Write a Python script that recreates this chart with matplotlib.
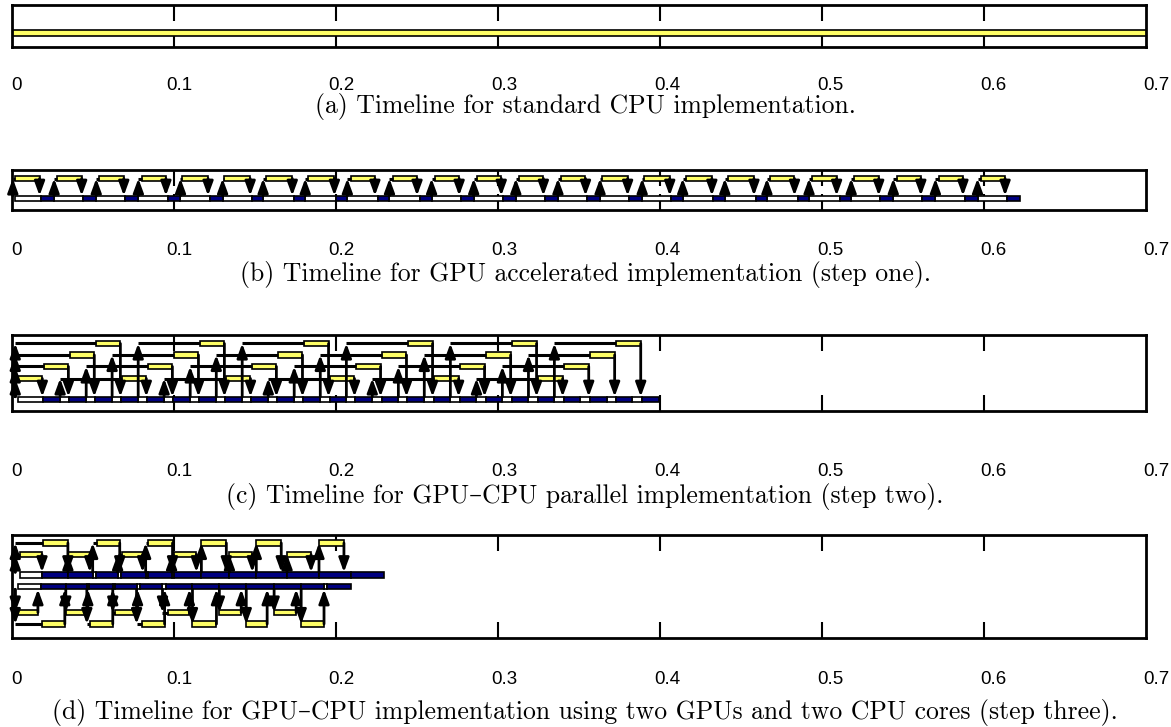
import matplotlib
matplotlib.use('Agg')
from matplotlib import pyplot as plt
from matplotlib.transforms import blended_transform_factory

plt.rcParams['font.family'] = ['Liberation Sans', 'DejaVu Sans']

W, H = 1171, 727

tick_values = [0, 0.1, 0.2, 0.3, 0.4, 0.5, 0.6, 0.7]
tick_labels = ['0', '0.1', '0.2', '0.3', '0.4', '0.5', '0.6', '0.7']
inner_ticks = [0.1, 0.2, 0.3, 0.4, 0.5, 0.6]

captions = [
    '(a) Timeline for standard CPU implementation.',
    '(b) Timeline for GPU accelerated implementation (step one).',
    '(c) Timeline for GPU\u2013CPU parallel implementation (step two).',
    '(d) Timeline for GPU\u2013CPU implementation using two GPUs and two CPU cores (step three).',
]

# (a) everything on the CPU
a_work_start = [0.0]
a_work_end = [0.76]

# (b) one GPU stream, CPU waits for each kernel
b_gpu_start = [0.002, 0.028, 0.054, 0.080, 0.105, 0.131, 0.157, 0.183, 0.209, 0.235, 0.261, 0.287,
               0.313, 0.339, 0.364, 0.390, 0.416, 0.442, 0.468, 0.494, 0.520, 0.546, 0.572, 0.598]
b_gpu_end = [0.017, 0.043, 0.069, 0.095, 0.121, 0.147, 0.173, 0.199, 0.224, 0.250, 0.276, 0.302,
             0.328, 0.354, 0.380, 0.406, 0.432, 0.458, 0.483, 0.509, 0.535, 0.561, 0.587, 0.613]
b_cpu_start = [0.018, 0.044, 0.070, 0.096, 0.122, 0.148, 0.174, 0.200, 0.226, 0.252, 0.277, 0.303,
               0.329, 0.355, 0.381, 0.407, 0.433, 0.459, 0.485, 0.511, 0.536, 0.562, 0.588, 0.614]
b_cpu_end = [0.026, 0.052, 0.078, 0.104, 0.130, 0.155, 0.181, 0.207, 0.233, 0.259, 0.285, 0.311,
             0.337, 0.363, 0.389, 0.414, 0.440, 0.466, 0.492, 0.518, 0.544, 0.570, 0.596, 0.622]
b_first_dispatch = [0.0005]

# (c) four streams on one GPU
c_gpu_start = [0.0037, 0.0198, 0.0358, 0.0519, 0.0679, 0.0840, 0.1001, 0.1161, 0.1322, 0.1482, 0.1643, 0.1804,
               0.1964, 0.2125, 0.2285, 0.2446, 0.2607, 0.2767, 0.2928, 0.3088, 0.3249, 0.3410, 0.3570, 0.3731]
c_gpu_end = [0.0187, 0.0348, 0.0508, 0.0669, 0.0829, 0.0990, 0.1151, 0.1311, 0.1472, 0.1632, 0.1793, 0.1954,
             0.2114, 0.2275, 0.2435, 0.2596, 0.2757, 0.2917, 0.3078, 0.3238, 0.3399, 0.3560, 0.3720, 0.3881]
c_cpu_start = [0.0193, 0.0354, 0.0514, 0.0675, 0.0835, 0.0996, 0.1157, 0.1317, 0.1478, 0.1638, 0.1799, 0.1960,
               0.2120, 0.2281, 0.2441, 0.2602, 0.2763, 0.2923, 0.3084, 0.3244, 0.3405, 0.3566, 0.3726, 0.3887]
c_cpu_end = [0.0297, 0.0458, 0.0618, 0.0779, 0.0939, 0.1100, 0.1261, 0.1421, 0.1582, 0.1742, 0.1903, 0.2064,
             0.2224, 0.2385, 0.2545, 0.2706, 0.2867, 0.3027, 0.3188, 0.3348, 0.3509, 0.3670, 0.3830, 0.3991]
c_first_dispatch = [0.002, 0.002, 0.002, 0.002]

# (d) two GPUs (two streams each), two CPU cores
d1_gpu_start = [0.0049, 0.0191, 0.0345, 0.0523, 0.0677, 0.0837, 0.1003, 0.1169, 0.1342, 0.1508, 0.1698, 0.1895]
d1_gpu_end = [0.0185, 0.0345, 0.0480, 0.0665, 0.0806, 0.0991, 0.1138, 0.1323, 0.1483, 0.1662, 0.1846, 0.2049]
d1_cpu_start = [0.0185, 0.0345, 0.0517, 0.0671, 0.0837, 0.0997, 0.1169, 0.1342, 0.1508, 0.1698, 0.1895, 0.2092]
d1_cpu_end = [0.0345, 0.0498, 0.0652, 0.0825, 0.0985, 0.1169, 0.1342, 0.1508, 0.1698, 0.1895, 0.2092, 0.2295]
d2_gpu_start = [0.0037, 0.0185, 0.0332, 0.0480, 0.0634, 0.0800, 0.0960, 0.1114, 0.1280, 0.1446, 0.1618, 0.1785]
d2_gpu_end = [0.0160, 0.0326, 0.0468, 0.0622, 0.0775, 0.0942, 0.1095, 0.1262, 0.1415, 0.1575, 0.1754, 0.1926]
d2_cpu_start = [0.0178, 0.0332, 0.0474, 0.0634, 0.0788, 0.0948, 0.1114, 0.1280, 0.1446, 0.1618, 0.1785, 0.1945]
d2_cpu_end = [0.0332, 0.0462, 0.0622, 0.0769, 0.0929, 0.1114, 0.1280, 0.1446, 0.1618, 0.1785, 0.1926, 0.2092]
d_first_dispatch = [0.002, 0.002]

YELLOW = '#ffff66'
BLUE = '#000080'
BAR_H = 5.6

# pixel layout: axes top/bottom, tick label row, caption row
panels = [
    dict(top=5, bottom=47, labels=86, caption=106),
    dict(top=170, bottom=210, labels=251, caption=274),
    dict(top=335, bottom=411, labels=472, caption=496),
    dict(top=535, bottom=638, labels=680, caption=712),
]
X0, X1 = 12, 1146
LX0, LX1 = 16, 1156


def bars(ax, starts, ends, y, color):
    widths = [e - s for s, e in zip(starts, ends)]
    ax.barh([y] * len(starts), widths, left=starts, height=BAR_H, color=color,
            edgecolor='black', linewidth=1.2, zorder=2)


def arrow(ax, x, y0, y1):
    ax.annotate('', xy=(x, y1), xytext=(x, y0),
                arrowprops=dict(arrowstyle='-|>,head_length=0.6,head_width=0.22',
                                mutation_scale=14, lw=2, color='black',
                                shrinkA=0, shrinkB=0), zorder=4)


def idle_spans(first, cpu_start, cpu_end):
    s, e = [first], [cpu_start[0]]
    for i in range(len(cpu_start) - 1):
        if cpu_start[i + 1] > cpu_end[i]:
            s.append(cpu_end[i])
            e.append(cpu_start[i + 1])
    return s, e


def timeline(ax, gpu_start, gpu_end, rows, cpu_start, cpu_end, first_dispatch, cpu_y):
    n_streams = len(first_dispatch)
    # CPU row: idle (white) and busy (blue)
    ws, we = idle_spans(min(gpu_start), cpu_start, cpu_end)
    bars(ax, ws, we, cpu_y, 'white')
    bars(ax, cpu_start, cpu_end, cpu_y, BLUE)
    for k, y in enumerate(rows):
        bars(ax, [gpu_start[k]], [gpu_end[k]], y, YELLOW)
        edge = cpu_y - BAR_H / 2 if y < cpu_y else cpu_y + BAR_H / 2
        t = first_dispatch[k] if k < n_streams else cpu_end[k - n_streams]
        arrow(ax, t, edge, y)
        if gpu_start[k] > t:
            ax.plot([t, gpu_start[k]], [y, y], color='black', lw=2.2, zorder=3,
                    solid_capstyle='butt')
        arrow(ax, gpu_end[k], y, edge)


fig = plt.figure(figsize=(W / 100, H / 100), dpi=100)
axes = []
for i, p in enumerate(panels):
    ax = fig.add_axes([X0 / W, 1 - p['bottom'] / H, (X1 - X0) / W, (p['bottom'] - p['top']) / H])
    ax.set_xlim(0, 0.7)
    ax.set_ylim(p['bottom'] - p['top'], 0)
    ax.set_yticks([])
    ax.set_xticks(inner_ticks, [''] * len(inner_ticks))
    ax.tick_params(axis='x', direction='in', top=True, bottom=True, length=11.5, width=1.5)
    ax.set_axisbelow(True)
    for s in ax.spines.values():
        s.set_linewidth(2)
    axes.append(ax)

    lab = fig.add_axes([LX0 / W, 1 - p['labels'] / H, (LX1 - LX0) / W, 0.0001])
    lab.set_xlim(0, 0.7)
    lab.axis('off')
    tr = blended_transform_factory(lab.transData, lab.transAxes)
    for v, t in zip(tick_values, tick_labels):
        lab.text(v, 0.5, t, transform=tr, ha='center', va='center', fontsize=13.5)

    fig.text(585 / W, 1 - p['caption'] / H, captions[i], ha='center', va='center',
             fontsize=18.5, family=['cmr10', 'DejaVu Serif'])

# (a)
bars(axes[0], a_work_start, a_work_end, 28, YELLOW)

# (b)
timeline(axes[1], b_gpu_start, b_gpu_end, [8.5] * len(b_gpu_start),
         b_cpu_start, b_cpu_end, b_first_dispatch, 28.5)

# (c) stream rows from bottom to top
c_levels = [43.5, 31.5, 20, 8.5]
timeline(axes[2], c_gpu_start, c_gpu_end, [c_levels[k % 4] for k in range(len(c_gpu_start))],
         c_cpu_start, c_cpu_end, c_first_dispatch, 64.5)

# (d) GPU 1 above CPU 1, GPU 2 below CPU 2
d1_levels = [19.5, 8]
d2_levels = [77.5, 89]
timeline(axes[3], d1_gpu_start, d1_gpu_end, [d1_levels[k % 2] for k in range(len(d1_gpu_start))],
         d1_cpu_start, d1_cpu_end, d_first_dispatch, 40)
timeline(axes[3], d2_gpu_start, d2_gpu_end, [d2_levels[k % 2] for k in range(len(d2_gpu_start))],
         d2_cpu_start, d2_cpu_end, d_first_dispatch, 51.5)

fig.savefig('out.png', dpi=100)
